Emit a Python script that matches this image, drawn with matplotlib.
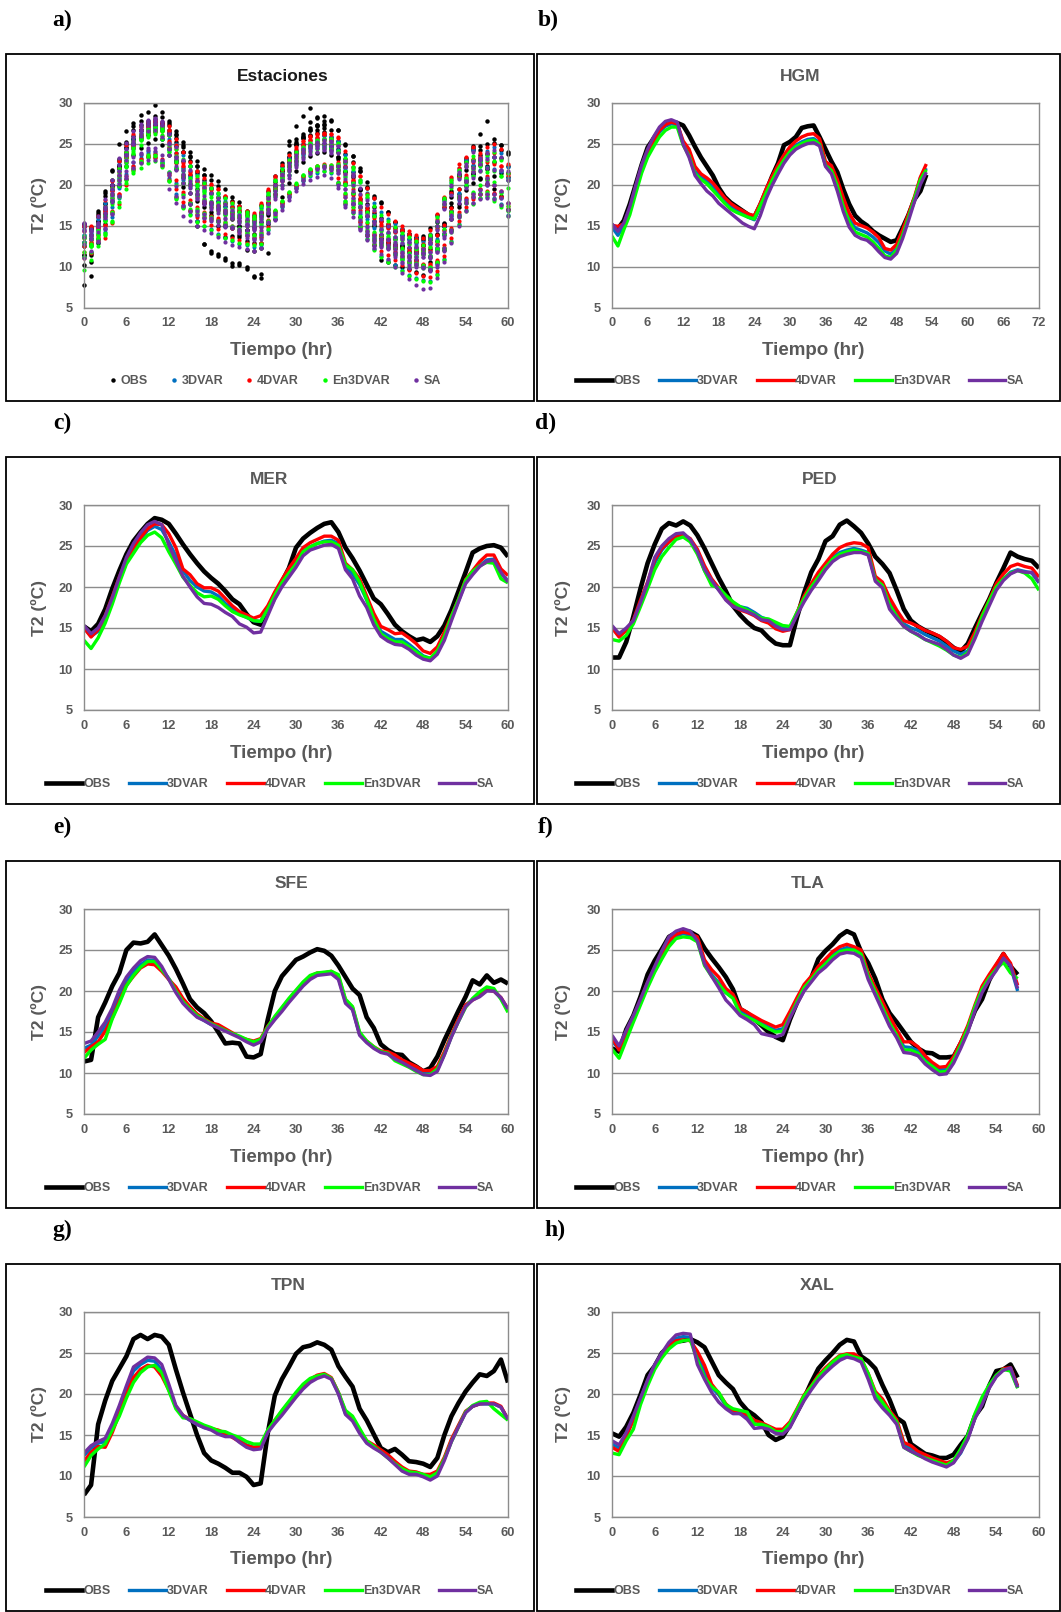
import numpy as np
import matplotlib
matplotlib.use("Agg")
import matplotlib.pyplot as plt
from matplotlib.lines import Line2D
from matplotlib.patches import Rectangle

plt.rcParams['font.family'] = ['Liberation Sans', 'DejaVu Sans']

# ---------------- DATA (T2 in degC, hourly from hour 0) ----------------
SERIES = ["OBS", "3DVAR", "4DVAR", "En3DVAR", "SA"]
COLORS = ["#000000", "#0070C0", "#FF0000", "#00FF00", "#7030A0"]

HGM_OBS = [15.0,14.6,15.6,17.6,20.0,22.4,24.5,25.6,26.6,27.3,
           27.6,27.5,27.2,26.0,24.6,23.3,22.2,21.1,19.6,18.5,
           17.8,17.3,16.8,16.3,16.0,17.5,19.2,21.0,22.6,24.8,
           25.2,25.8,26.9,27.1,27.2,25.8,24.3,22.8,21.5,19.4,
           17.6,16.2,15.5,15.0,14.3,13.8,13.4,13.0,13.2,14.7,
           16.3,18.2,19.2,21.2]
HGM_3DVAR = [14.8,13.8,15.0,16.8,19.4,21.8,23.8,25.2,26.4,27.1,
             27.4,27.3,25.0,23.8,21.6,20.9,20.4,19.7,18.8,18.0,
             17.3,16.8,16.4,16.0,15.7,17.3,19.1,20.6,22.0,23.2,
             24.2,24.8,25.2,25.5,25.6,25.1,22.4,21.9,20.1,17.8,
             15.8,14.7,14.4,14.1,13.6,12.9,11.9,11.5,12.2,14.0,
             16.1,18.3,20.8,22.0]
HGM_4DVAR = [15.0,14.9,15.2,17.0,19.7,22.0,24.0,25.3,26.6,27.3,
             27.6,27.4,25.3,24.3,22.2,21.3,20.8,20.2,19.3,18.4,
             17.7,17.2,16.8,16.4,16.2,17.7,19.5,21.0,22.4,23.6,
             24.6,25.3,25.8,26.1,26.2,25.6,22.8,22.3,20.6,18.4,
             16.5,15.3,15.0,14.7,14.2,13.5,12.2,12.0,12.7,14.5,
             16.4,18.5,20.9,22.5]
HGM_EN3DVAR = [13.7,12.5,14.5,16.3,18.9,21.4,23.3,24.6,25.8,26.6,
               27.0,27.0,24.8,23.5,21.3,20.6,20.1,19.3,18.5,17.7,
               17.0,16.6,16.3,16.0,15.8,17.4,19.0,20.5,21.9,23.0,
               24.0,24.6,25.0,25.3,25.4,24.9,22.3,21.7,19.8,17.3,
               15.4,14.2,13.9,13.6,13.0,12.2,11.3,11.1,12.0,13.8,
               16.0,18.3,20.6,21.8]
HGM_SA = [15.2,14.3,15.3,17.3,19.9,22.4,24.3,25.8,27.0,27.7,
          27.9,27.6,24.9,23.3,21.1,20.1,19.2,18.6,17.7,17.1,
          16.5,15.9,15.3,14.9,14.6,16.2,18.3,19.9,21.3,22.6,
          23.6,24.3,24.7,25.0,25.1,24.7,22.2,21.3,19.2,16.7,
          14.8,13.8,13.4,13.2,12.6,11.8,11.1,10.9,11.6,13.4,
          15.6,17.9,20.0,21.5]

MER_OBS = [15.2,14.6,15.5,17.3,19.8,22.0,24.0,25.6,26.7,27.7,
           28.4,28.2,27.7,26.5,25.2,24.0,22.9,21.9,21.1,20.4,
           19.5,18.5,17.9,16.7,15.7,15.4,17.0,18.8,20.6,22.3,
           24.8,25.9,26.6,27.2,27.7,27.9,26.7,24.8,23.5,22.0,
           20.3,18.6,17.9,16.7,15.4,14.6,14.0,13.5,13.7,13.3,
           14.0,15.3,17.2,19.5,21.8,24.2,24.7,25.0,25.1,24.8,
           23.7]
MER_3DVAR = [15.0,14.0,14.6,16.2,18.4,20.8,23.0,24.6,25.8,26.9,
             27.4,27.0,25.5,23.8,22.0,20.8,20.0,19.5,19.4,18.9,
             18.0,17.3,16.7,16.3,15.9,15.8,17.4,19.2,20.6,21.8,
             23.0,24.4,24.9,25.3,25.6,25.7,25.3,22.5,21.6,20.3,
             18.4,16.3,14.6,14.1,13.6,13.6,13.0,12.3,11.6,11.3,
             12.0,13.9,16.2,18.3,20.6,21.7,22.6,23.3,23.4,21.6,
             20.8]
MER_4DVAR = [15.0,13.9,14.8,16.5,18.8,21.2,23.3,24.8,26.0,27.1,
             27.7,27.6,26.5,24.8,22.2,21.5,20.4,19.9,19.9,19.5,
             18.6,17.7,17.0,16.6,16.2,16.5,17.7,19.4,20.9,22.3,
             23.5,24.8,25.4,25.8,26.2,26.2,25.7,22.9,22.1,21.0,
             18.9,16.8,15.2,14.8,14.3,14.4,13.8,13.1,12.2,11.9,
             12.7,14.5,16.5,18.5,20.9,22.0,23.1,23.9,23.9,22.2,
             21.4]
MER_EN3DVAR = [13.5,12.5,13.8,15.6,17.9,20.5,22.8,24.1,25.4,26.3,
               26.7,26.0,24.3,22.8,21.2,20.2,19.3,18.8,18.9,18.5,
               17.7,17.0,16.6,16.3,15.9,15.8,17.3,19.0,20.5,21.7,
               22.8,24.3,24.9,25.3,25.5,25.5,25.1,22.7,22.1,20.6,
               18.5,16.1,14.3,13.7,13.3,13.3,12.7,12.1,11.5,11.3,
               12.2,14.0,16.4,18.5,20.8,21.9,22.6,23.0,22.9,21.0,
               20.5]
MER_SA = [15.3,14.3,15.0,16.5,18.7,21.2,23.6,25.3,26.6,27.6,
          28.0,27.6,25.1,23.2,21.3,20.0,18.8,18.0,17.9,17.5,
          16.9,16.4,15.5,15.1,14.4,14.5,16.5,18.5,20.0,21.2,
          22.4,23.8,24.5,24.8,25.1,25.2,24.7,22.1,21.0,18.9,
          17.5,15.4,14.0,13.4,13.0,12.9,12.4,11.7,11.2,11.0,
          11.8,13.5,15.9,18.2,20.4,21.5,22.5,23.1,23.3,21.8,
          20.6]

PED_OBS = [11.4,11.4,13.3,16.4,19.8,22.9,25.2,27.1,27.8,27.5,
           28.0,27.5,26.3,24.7,22.9,21.1,19.5,17.7,16.6,15.7,
           15.0,14.7,13.8,13.1,12.9,12.9,16.3,19.3,21.8,23.4,
           25.6,26.2,27.6,28.1,27.4,26.6,25.3,23.7,22.8,21.7,
           19.6,17.3,15.9,15.2,14.7,14.3,13.9,13.3,12.6,12.1,
           13.1,15.0,16.8,18.5,20.5,22.3,24.2,23.7,23.4,23.2,
           22.3]
PED_3DVAR = [15.0,14.1,14.8,15.8,18.0,20.2,22.9,24.5,25.5,26.2,
             26.4,25.6,24.3,22.0,20.5,19.7,18.7,18.0,17.6,17.4,
             16.9,16.3,16.0,15.5,15.2,15.1,16.8,18.6,20.0,21.2,
             22.5,23.6,24.2,24.5,24.7,24.5,24.2,21.0,20.3,18.0,
             16.6,15.5,15.0,14.7,14.2,13.8,13.4,12.8,12.2,11.8,
             12.2,14.0,16.2,18.1,20.0,21.0,21.8,22.1,21.9,21.7,
             20.5]
PED_4DVAR = [15.0,13.9,14.7,16.0,18.4,20.6,23.3,24.7,25.5,26.2,
             26.4,25.9,24.6,22.6,21.0,19.9,18.5,17.7,17.2,16.9,
             16.5,15.9,15.6,14.9,14.6,14.8,16.9,18.9,20.4,21.8,
             22.9,24.0,24.8,25.2,25.4,25.3,24.8,21.3,20.6,18.7,
             17.2,15.9,15.6,15.2,14.7,14.4,14.0,13.4,12.6,12.4,
             12.8,14.5,16.6,18.4,20.4,21.6,22.5,22.8,22.5,22.3,
             21.2]
PED_EN3DVAR = [13.6,13.4,14.1,15.5,17.6,19.8,22.1,23.7,24.8,25.8,
               26.1,25.5,24.0,22.0,20.2,19.9,19.0,18.2,17.6,17.2,
               16.7,16.2,16.1,15.7,15.3,15.2,16.9,18.6,20.0,21.2,
               22.4,23.4,24.0,24.3,24.5,24.3,24.1,20.9,20.2,17.8,
               16.4,15.2,14.6,14.1,13.6,13.2,12.8,12.3,11.7,11.4,
               12.0,14.0,16.4,18.3,20.0,21.0,21.7,22.0,21.7,21.0,
               19.6]
PED_SA = [15.3,14.3,15.0,15.9,18.1,20.5,23.6,25.0,25.9,26.5,
          26.6,25.8,24.3,22.2,20.8,19.6,18.4,17.6,17.3,17.0,
          16.6,16.0,15.9,15.2,14.8,14.8,16.6,18.2,19.6,20.8,
          22.1,23.1,23.7,24.0,24.2,24.2,23.9,20.7,19.9,17.3,
          16.2,15.2,14.6,14.2,13.6,13.3,13.0,12.4,11.7,11.3,
          11.8,13.7,15.8,17.7,19.6,20.8,21.6,22.0,21.8,21.8,
          20.6]

SFE_OBS = [11.4,11.6,16.8,18.6,20.6,22.2,25.0,25.9,25.8,26.0,
           26.9,25.6,24.3,22.7,20.9,19.0,18.0,17.3,16.3,15.0,
           13.6,13.7,13.6,12.0,11.9,12.3,16.5,20.0,21.8,22.8,
           23.8,24.2,24.7,25.1,24.9,24.3,23.1,21.7,20.3,19.5,
           16.8,15.5,13.5,12.8,12.3,12.2,11.3,10.8,10.2,10.6,
           12.0,14.0,15.8,17.6,19.3,21.3,20.8,21.9,21.0,21.4,
           20.9]
SFE_3DVAR = [13.0,13.4,14.5,15.7,17.2,19.6,21.3,22.3,23.2,23.8,
             23.7,22.7,21.5,20.2,18.8,17.7,16.9,16.4,15.9,15.6,
             15.2,14.8,14.4,13.9,13.6,14.0,15.5,16.6,17.7,18.8,
             19.8,20.8,21.6,22.0,22.1,22.2,21.6,18.7,17.8,14.7,
             13.8,13.1,12.6,12.4,11.9,11.4,11.0,10.5,10.0,9.9,
             10.4,12.3,14.5,16.4,18.2,19.0,19.5,20.1,20.0,19.1,
             17.7]
SFE_4DVAR = [12.5,13.2,13.8,15.1,16.7,18.8,20.7,21.8,22.8,23.3,
             23.2,22.4,21.4,20.5,19.1,18.1,17.2,16.6,16.1,15.9,
             15.4,14.9,14.4,14.1,13.9,14.2,15.7,16.8,17.9,19.0,
             20.0,21.0,21.8,22.2,22.2,22.4,21.8,18.9,18.0,14.8,
             13.9,13.2,12.7,12.6,12.2,11.6,11.2,10.8,10.3,10.3,
             10.8,12.6,14.7,16.6,18.3,18.9,19.4,20.1,20.0,19.2,
             17.8]
SFE_EN3DVAR = [11.8,12.8,13.5,14.1,16.6,18.5,20.6,21.9,22.9,23.6,
               23.6,22.6,21.5,20.0,18.7,17.8,17.0,16.5,16.0,15.6,
               15.2,14.8,14.5,14.1,13.8,14.1,15.6,16.9,18.0,19.1,
               20.1,21.1,21.9,22.2,22.3,22.4,22.0,19.0,18.1,15.0,
               13.9,13.2,12.6,12.4,11.5,11.1,10.7,10.2,9.8,9.8,
               10.5,12.3,14.5,16.3,18.0,19.1,19.9,20.5,20.3,19.0,
               17.4]
SFE_SA = [13.6,13.9,15.0,16.2,17.9,20.1,21.7,22.8,23.7,24.2,
          24.1,23.0,21.4,19.8,18.5,17.6,16.8,16.4,15.9,15.5,
          15.1,14.7,14.3,13.8,13.4,13.8,15.4,16.5,17.5,18.6,
          19.6,20.6,21.4,21.9,22.0,22.1,21.4,18.5,17.7,14.6,
          13.7,13.0,12.5,12.3,11.7,11.3,10.8,10.3,9.8,9.7,
          10.2,12.2,14.4,16.3,18.1,18.9,19.3,20.0,20.0,19.2,
          17.8]

TLA_OBS = [13.0,12.6,15.3,17.0,19.3,22.0,23.7,25.1,26.6,27.1,
           27.3,27.2,26.7,25.2,24.0,22.9,21.7,20.2,17.8,17.3,
           16.6,15.8,15.0,14.4,14.0,16.5,18.6,20.3,21.6,23.9,
           24.9,25.7,26.7,27.3,26.9,24.8,23.4,21.5,19.0,17.3,
           16.2,15.0,13.8,13.0,12.5,12.4,11.9,11.9,12.0,13.6,
           15.4,17.6,19.0,21.3,23.0,24.5,23.0,22.0]
TLA_3DVAR = [13.9,12.9,14.6,16.5,18.6,20.8,22.6,24.3,25.9,26.7,
             27.0,26.8,26.3,23.5,22.0,21.0,19.8,19.2,17.5,17.0,
             16.5,16.1,15.6,15.2,15.4,17.1,18.9,20.5,21.5,22.6,
             23.5,24.4,25.0,25.3,25.1,24.7,21.9,20.1,18.3,16.4,
             14.9,13.2,13.1,12.7,11.7,11.0,10.4,10.4,11.7,13.5,
             15.5,18.0,20.3,21.8,23.0,24.2,23.0,20.0]
TLA_4DVAR = [14.3,12.8,14.9,16.8,18.9,21.0,22.8,24.5,26.1,26.9,
             27.2,27.0,26.6,23.8,22.6,21.7,20.3,19.6,17.9,17.4,
             16.9,16.4,16.0,15.6,15.9,17.5,19.2,20.8,21.8,23.0,
             23.9,24.8,25.4,25.7,25.4,25.0,22.2,20.4,18.7,16.9,
             15.3,13.8,13.8,13.2,12.1,11.3,10.7,10.8,12.0,13.8,
             15.8,18.3,20.6,22.0,23.3,24.6,23.4,20.7]
TLA_EN3DVAR = [12.9,11.8,14.0,16.2,18.3,20.4,22.3,23.9,25.4,26.4,
               26.6,26.5,26.0,23.1,21.8,20.8,19.8,19.1,17.2,16.8,
               16.4,15.9,15.4,15.0,15.1,16.9,18.7,20.4,21.4,22.5,
               23.3,24.2,24.8,25.0,25.0,24.5,21.8,19.9,18.0,16.1,
               14.6,12.8,12.8,12.4,11.4,10.8,10.1,10.2,11.6,13.4,
               15.5,18.1,20.2,21.6,22.7,23.5,22.2,21.5]
TLA_SA = [14.6,13.3,15.2,17.0,19.0,21.1,23.0,24.9,26.6,27.3,
          27.6,27.3,26.1,23.3,21.8,20.4,18.9,18.0,17.0,16.5,
          15.9,14.8,14.6,14.4,14.7,16.7,18.4,20.0,21.1,22.2,
          22.9,23.8,24.5,24.7,24.6,24.1,21.4,19.5,17.6,15.7,
          14.3,12.5,12.4,12.1,11.1,10.4,9.8,9.9,11.2,13.0,
          15.0,17.6,19.8,21.3,22.5,24.0,23.1,20.3]

TPN_OBS = [7.7,8.9,16.3,19.2,21.6,23.1,24.6,26.7,27.2,26.7,
           27.2,27.0,26.0,23.0,20.2,17.6,15.0,12.8,11.9,11.5,
           11.0,10.4,10.4,9.9,8.9,9.1,15.2,19.8,21.8,23.3,
           24.9,25.7,25.9,26.3,26.0,25.4,23.4,22.1,20.9,18.2,
           16.8,15.1,13.4,12.9,13.3,12.6,11.8,11.7,11.5,11.1,
           12.2,15.0,17.3,18.9,20.3,21.4,22.4,22.2,22.8,24.2,
           21.4]
TPN_3DVAR = [12.5,13.4,14.0,14.2,16.0,18.3,20.7,22.8,23.6,24.1,
             24.0,22.9,20.8,18.4,17.3,16.8,16.3,15.9,15.7,15.4,
             15.0,14.8,14.3,13.8,13.5,13.6,15.4,16.6,17.7,18.8,
             19.8,20.8,21.6,22.1,22.3,21.9,20.1,17.6,16.9,15.4,
             14.1,13.6,13.0,12.4,11.6,10.9,10.4,10.3,10.1,9.8,
             10.3,12.1,14.3,16.1,17.8,18.5,18.8,18.8,18.8,18.4,
             16.9]
TPN_4DVAR = [11.8,12.9,13.6,13.5,15.3,17.6,20.0,22.0,23.0,23.5,
             23.3,22.2,20.5,18.5,17.4,16.9,16.4,16.0,15.8,15.6,
             15.2,14.7,14.2,13.7,13.5,13.6,15.5,16.8,17.9,19.0,
             20.0,21.0,21.8,22.3,22.5,22.0,20.2,17.8,16.9,15.6,
             14.3,13.8,13.2,12.6,11.8,11.1,10.6,10.5,10.2,10.2,
             10.6,12.3,14.5,16.2,17.9,18.5,18.8,18.9,18.9,18.5,
             16.9]
TPN_EN3DVAR = [11.1,12.5,13.3,13.9,15.6,17.3,19.5,21.4,22.6,23.3,
               23.5,22.6,20.4,18.2,17.1,17.0,16.6,16.2,15.9,15.5,
               15.4,15.0,14.7,14.2,13.9,13.9,15.6,16.8,18.0,19.1,
               20.2,21.2,21.9,22.2,22.4,21.9,20.2,18.0,17.3,15.8,
               14.3,13.6,12.9,12.2,11.5,10.9,10.5,10.4,10.2,9.9,
               10.4,12.1,14.2,16.0,17.8,18.6,19.0,19.1,18.2,17.5,
               16.8]
TPN_SA = [12.8,13.7,14.2,14.6,16.4,18.6,21.0,23.3,23.9,24.5,
          24.4,23.6,21.2,18.6,17.4,16.8,16.3,15.9,15.6,15.1,
          14.8,14.8,14.1,13.5,13.2,13.3,15.3,16.4,17.4,18.5,
          19.6,20.6,21.4,21.9,22.2,21.8,20.0,17.5,16.7,15.2,
          14.0,13.4,12.9,12.2,11.4,10.6,10.2,10.2,9.9,9.5,
          10.0,11.9,14.2,16.0,17.7,18.5,18.8,18.8,18.8,18.4,
          16.9]

XAL_OBS = [15.2,14.8,16.0,17.7,19.9,22.3,23.4,25.0,25.8,26.4,
           26.5,26.7,26.3,25.7,24.0,22.3,21.4,20.6,19.0,18.0,
           17.4,16.6,15.0,14.4,14.8,16.2,17.8,19.5,21.4,23.1,
           24.1,25.0,26.0,26.6,26.4,24.6,24.0,23.1,21.1,19.3,
           17.1,16.5,13.9,13.3,12.7,12.5,12.2,12.2,12.6,13.8,
           14.9,17.3,18.5,21.0,22.8,23.0,23.6,22.0]
XAL_3DVAR = [13.9,13.4,15.0,17.0,19.4,21.6,23.5,24.9,26.0,26.8,
             27.0,26.9,24.6,22.7,20.8,19.9,18.6,17.9,17.6,17.2,
             16.4,16.1,15.9,15.5,15.4,16.2,17.9,19.6,20.8,22.0,
             22.9,23.7,24.4,24.7,24.7,24.1,22.2,19.9,18.9,17.6,
             16.6,13.8,13.4,12.8,12.4,12.0,11.6,11.3,11.7,12.8,
             14.6,17.1,18.9,20.8,22.2,23.0,23.0,20.8]
XAL_4DVAR = [13.5,13.0,14.8,16.8,19.2,21.5,23.3,24.7,25.8,26.5,
             26.6,26.5,25.2,23.5,21.2,20.1,18.8,18.0,17.7,17.5,
             16.8,16.5,16.1,15.7,15.7,16.6,18.2,19.9,21.0,22.3,
             23.2,24.0,24.7,24.9,24.9,24.3,22.5,20.3,19.4,18.0,
             16.9,14.1,13.7,13.0,12.6,12.2,11.9,11.6,11.9,13.0,
             14.7,17.2,19.0,20.9,22.2,23.1,23.2,21.0]
XAL_EN3DVAR = [12.8,12.6,14.3,15.7,18.7,21.0,23.0,24.4,25.5,26.2,
               26.5,26.6,24.1,22.0,20.9,20.2,18.7,18.2,18.0,17.8,
               16.3,16.3,16.0,15.4,15.4,16.4,18.1,19.8,20.9,22.1,
               23.0,23.9,24.6,24.8,24.5,24.3,22.5,20.1,19.0,17.8,
               16.6,13.5,13.0,12.5,12.2,11.9,11.6,11.3,11.9,13.3,
               15.0,17.6,19.6,21.1,22.3,23.0,22.8,20.7]
XAL_SA = [14.3,13.8,15.3,17.3,19.5,21.7,23.6,25.0,26.3,27.2,
          27.4,27.3,23.6,21.8,20.2,19.0,18.2,17.6,17.6,16.9,
          15.8,15.9,15.7,15.2,15.1,15.9,17.6,19.2,20.5,21.7,
          22.6,23.4,24.1,24.5,24.3,23.9,21.8,19.4,18.3,17.4,
          16.3,13.5,13.0,12.6,12.1,11.7,11.4,11.1,11.6,12.9,
          14.5,17.0,18.7,20.7,22.1,22.9,23.2,20.8]

# two additional stations that only appear in the "Estaciones" scatter
EXTRA1_OBS = [12.5,13.5,16.5,19.0,21.8,25.0,26.5,27.5,28.5,28.9,
              29.7,28.8,27.5,26.2,24.8,23.5,22.2,21.2,20.6,19.8,
              18.5,18.0,17.4,16.8,16.3,16.4,17.7,19.8,22.2,25.3,
              27.1,28.4,29.3,28.2,28.3,27.8,26.6,25.0,23.5,21.6,
              19.7,18.4,17.7,16.6,15.4,14.5,14.0,13.6,13.5,13.3,
              13.9,15.2,17.7,21.2,23.2,24.7,26.2,27.7,25.5,24.8,
              24.0]
EXTRA1_3DVAR = [14.5,14.4,15.8,17.8,20.0,22.5,24.3,25.6,26.6,27.3,
                27.6,27.3,26.5,25.0,23.6,22.3,21.2,20.3,19.6,19.0,
                18.3,17.5,17.0,16.5,16.2,16.3,17.6,19.5,21.0,22.5,
                23.8,24.8,25.4,25.7,25.9,25.8,25.2,23.6,22.1,20.5,
                19.0,17.8,16.6,15.8,15.2,14.6,14.0,13.5,13.0,12.7,
                13.4,14.9,16.8,19.0,20.8,22.4,23.3,24.1,24.6,23.8,
                22.1]
EXTRA1_4DVAR = [15.0,14.8,16.1,18.1,20.4,22.9,24.8,26.1,27.0,27.6,
                27.9,27.6,27.1,25.5,24.0,22.7,21.6,20.8,20.1,19.5,
                18.6,17.9,17.4,16.8,16.5,16.6,17.9,19.8,21.3,22.9,
                24.3,25.3,25.9,26.2,26.3,26.2,25.8,24.1,22.6,21.0,
                19.6,18.3,17.2,16.4,15.6,14.9,14.3,13.8,13.5,13.0,
                13.8,15.1,17.1,19.4,21.1,22.8,23.8,24.6,25.0,24.3,
                22.5]
EXTRA1_EN3DVAR = [13.6,13.9,15.2,17.3,19.6,22.0,24.0,25.3,26.1,26.8,
                  27.0,26.6,26.0,24.3,23.1,22.2,21.0,20.2,19.6,19.0,
                  18.4,17.7,17.1,16.6,16.1,16.0,17.5,19.3,20.8,22.2,
                  23.5,24.5,25.1,25.4,25.5,25.6,25.0,23.2,21.9,20.3,
                  18.7,17.4,16.3,15.5,14.8,14.1,13.6,13.1,12.6,12.4,
                  13.1,14.6,16.6,18.6,20.4,22.0,22.9,23.6,24.0,23.0,
                  21.4]
EXTRA1_SA = [14.9,14.6,16.2,18.2,20.5,23.2,25.1,26.5,27.4,27.9,
             28.1,27.8,26.2,24.6,23.0,21.8,20.6,19.7,19.0,18.4,
             17.6,16.9,16.3,15.8,15.4,15.6,17.0,18.9,20.4,21.9,
             23.2,24.2,24.8,25.2,25.4,25.3,24.7,22.9,21.3,19.6,
             18.1,16.9,15.8,15.0,14.3,13.6,13.0,12.5,12.1,11.8,
             12.6,14.2,16.3,18.6,20.4,22.0,23.0,23.8,24.2,23.3,
             21.7]

EXTRA2_OBS = [10.2,10.6,12.9,15.2,18.0,19.8,22.3,23.6,24.5,25.1,
              25.6,24.8,23.6,21.9,19.7,17.7,15.6,12.7,11.7,11.3,
              10.8,10.1,10.2,9.7,8.7,8.6,11.6,15.8,18.5,20.2,
              21.6,22.7,23.5,23.9,24.0,23.6,22.3,20.2,17.6,16.0,
              13.9,12.6,10.8,10.6,10.2,10.0,9.7,9.3,9.0,9.6,
              10.5,12.0,14.4,17.2,19.8,20.2,20.7,20.1,19.4,18.6,
              17.0]
EXTRA2_3DVAR = [11.2,11.8,13.0,14.6,16.5,18.6,20.7,21.9,22.8,23.3,
                23.4,22.6,20.6,18.9,17.5,16.4,15.5,15.0,14.6,14.0,
                13.5,13.1,12.8,12.6,12.4,12.6,14.5,16.0,17.3,18.5,
                19.6,20.4,21.0,21.4,21.6,21.4,20.3,18.0,16.6,14.8,
                13.3,12.1,11.3,10.8,10.2,9.6,9.0,8.6,8.3,8.2,
                9.1,10.9,13.1,15.2,16.9,17.8,18.3,18.5,18.3,17.6,
                16.3]
EXTRA2_4DVAR = [11.0,11.7,13.1,14.9,16.8,18.9,21.0,22.2,23.1,23.6,
                23.7,23.1,21.1,19.4,17.9,16.8,16.0,15.5,15.1,14.6,
                14.0,13.5,13.2,12.9,12.8,12.9,14.8,16.3,17.6,18.9,
                20.0,21.0,21.6,22.0,22.3,22.0,20.8,18.5,17.2,15.4,
                13.9,12.7,11.9,11.4,10.8,10.2,9.6,9.2,8.9,8.7,
                9.5,11.3,13.5,15.6,17.3,18.2,18.8,19.2,19.0,18.5,
                17.4]
EXTRA2_EN3DVAR = [9.6,10.8,12.5,14.0,15.4,17.9,20.2,21.6,22.0,22.6,
                  22.9,22.1,20.4,18.5,17.2,16.3,15.4,14.9,14.4,13.9,
                  13.5,13.2,12.9,12.8,12.6,12.7,14.6,16.1,17.4,18.6,
                  19.6,20.5,21.1,21.6,21.7,21.5,20.2,17.8,16.5,14.9,
                  13.3,12.0,11.1,10.6,10.0,9.4,8.8,8.5,8.2,8.1,
                  9.0,10.8,13.0,15.1,16.8,17.6,18.3,18.6,18.0,17.3,
                  16.1]
EXTRA2_SA = [11.0,11.9,13.1,14.7,16.4,18.6,20.8,22.0,22.6,23.0,
             23.0,22.4,19.5,17.8,16.2,15.5,14.9,14.5,14.1,13.6,
             13.0,12.6,12.4,12.1,11.9,12.2,14.1,15.7,16.9,18.1,
             19.2,20.1,20.6,20.9,21.1,20.8,19.6,17.2,16.0,14.4,
             13.2,12.2,11.5,10.9,10.0,9.2,8.5,7.8,7.3,7.4,
             8.6,10.6,12.9,15.0,16.8,17.8,18.2,18.4,18.2,17.5,
             16.2]

HGM = [HGM_OBS, HGM_3DVAR, HGM_4DVAR, HGM_EN3DVAR, HGM_SA]
MER = [MER_OBS, MER_3DVAR, MER_4DVAR, MER_EN3DVAR, MER_SA]
PED = [PED_OBS, PED_3DVAR, PED_4DVAR, PED_EN3DVAR, PED_SA]
SFE = [SFE_OBS, SFE_3DVAR, SFE_4DVAR, SFE_EN3DVAR, SFE_SA]
TLA = [TLA_OBS, TLA_3DVAR, TLA_4DVAR, TLA_EN3DVAR, TLA_SA]
TPN = [TPN_OBS, TPN_3DVAR, TPN_4DVAR, TPN_EN3DVAR, TPN_SA]
XAL = [XAL_OBS, XAL_3DVAR, XAL_4DVAR, XAL_EN3DVAR, XAL_SA]
EXTRA1 = [EXTRA1_OBS, EXTRA1_3DVAR, EXTRA1_4DVAR, EXTRA1_EN3DVAR, EXTRA1_SA]
EXTRA2 = [EXTRA2_OBS, EXTRA2_3DVAR, EXTRA2_4DVAR, EXTRA2_EN3DVAR, EXTRA2_SA]
ALL_STATIONS = [HGM, MER, PED, SFE, TLA, TPN, XAL, EXTRA1, EXTRA2]

# ---------------- LAYOUT ----------------
W, H = 1061, 1612
fig = plt.figure(figsize=(W / 100, H / 100), dpi=100)
fig.patch.set_facecolor("white")

GRAY = "#595959"
AXC = "#8C8C8C"
ROW_OFF = [0, 402.5, 806.5, 1209.5]

def fx(x):
    return x / W

def fy(y):
    return 1 - y / H

# (label, title, row, side, data, xmax, label_x, title_x)
PANELS = [
    ("a)", "Estaciones", 0, "L", None, 60, 62, 283),
    ("b)", "HGM", 0, "R", HGM, 72, 548, 800),
    ("c)", "MER", 1, "L", MER, 60, 62, 269),
    ("d)", "PED", 1, "R", PED, 60, 546, 820),
    ("e)", "SFE", 2, "L", SFE, 60, 62, 291),
    ("f)", "TLA", 2, "R", TLA, 60, 546, 808),
    ("g)", "TPN", 3, "L", TPN, 60, 62, 288),
    ("h)", "XAL", 3, "R", XAL, 60, 555, 817),
]

for lab, title, row, side, data, xmax, lab_x, title_x in PANELS:
    off = ROW_OFF[row]
    if side == "L":
        bx0, bx1 = 6, 534
        px0, px1 = 84, 508
        ylab_x, xlab_x, leg_x = 39, 281, 270
    else:
        bx0, bx1 = 537, 1060
        px0, px1 = 612, 1039
        ylab_x, xlab_x, leg_x = 563, 813, 800
    # outer chart frame
    fig.patches.append(Rectangle((fx(bx0), fy(401 + off)), (bx1 - bx0) / W,
                                 (401 - 54) / H, transform=fig.transFigure,
                                 fill=False, ec="black", lw=1.3))
    # panel label
    fig.text(fx(lab_x), fy(20.5 + off), lab, ha="center", va="center",
             fontsize=17, fontweight="bold", family=["Liberation Serif", "DejaVu Serif"])
    # title
    fig.text(fx(title_x), fy(76.5 + off), title, ha="center", va="center",
             fontsize=12.5, fontweight="bold",
             color="#1a1a1a" if data is None else GRAY)
    # axes
    ptop, pbot = 102.5 + off, 307.5 + off
    ax = fig.add_axes([fx(px0), fy(pbot), (px1 - px0) / W, (pbot - ptop) / H])
    ax.set_xlim(0, xmax)
    ax.set_ylim(5, 30)
    ax.set_xticks(np.arange(0, xmax + 1, 6))
    ax.set_yticks(np.arange(5, 31, 5))
    ax.grid(axis="y", color=AXC, lw=1.0)
    ax.set_axisbelow(True)
    for sp in ax.spines.values():
        sp.set_color(AXC)
        sp.set_linewidth(1.0)
    ax.tick_params(length=0, labelsize=9.3, labelcolor=GRAY)
    ax.tick_params(axis="y", pad=8)
    ax.tick_params(axis="x", pad=7)
    for t in ax.get_xticklabels() + ax.get_yticklabels():
        t.set_fontweight("bold")

    handles = []
    if data is None:
        for k, (name, col) in enumerate(zip(SERIES, COLORS)):
            for st in ALL_STATIONS:
                vals = st[k]
                ax.plot(np.arange(len(vals)), vals, ls="none", marker="o",
                        ms=3.2 if k == 0 else 3.0, mew=0, color=col, clip_on=False)
            handles.append(Line2D([], [], ls="none", marker="o", ms=3.2, mew=0,
                                  color=col, label=name))
        leg = ax.legend(handles=handles, loc="center", ncol=5, frameon=False,
                        bbox_to_anchor=(fx(275), fy(381.5 + off)),
                        bbox_transform=fig.transFigure, fontsize=9,
                        handlelength=0.6, handletextpad=0.3, columnspacing=1.8)
    else:
        for k, (name, col) in enumerate(zip(SERIES, COLORS)):
            vals = data[k]
            lw = 3.3 if k == 0 else 2.4
            ax.plot(np.arange(len(vals)), vals, color=col, lw=lw,
                    solid_joinstyle="round", solid_capstyle="butt")
            handles.append(Line2D([], [], color=col, lw=lw, label=name))
        leg = ax.legend(handles=handles, loc="center", ncol=5, frameon=False,
                        bbox_to_anchor=(fx(leg_x), fy(381.5 + off)),
                        bbox_transform=fig.transFigure, fontsize=9,
                        handlelength=2.9, handletextpad=0.1, columnspacing=1.5)
    for t in leg.get_texts():
        t.set_color(GRAY)
        t.set_fontweight("bold")

    fig.text(fx(xlab_x), fy(350.5 + off), "Tiempo (hr)", ha="center", va="center",
             fontsize=13.5, fontweight="bold", color=GRAY)
    fig.text(fx(ylab_x), fy(205 + off), "T2 (ºC)", ha="center", va="center",
             rotation=90, fontsize=12.5, fontweight="bold", color=GRAY)

fig.savefig("out.png", dpi=100, facecolor="white")
